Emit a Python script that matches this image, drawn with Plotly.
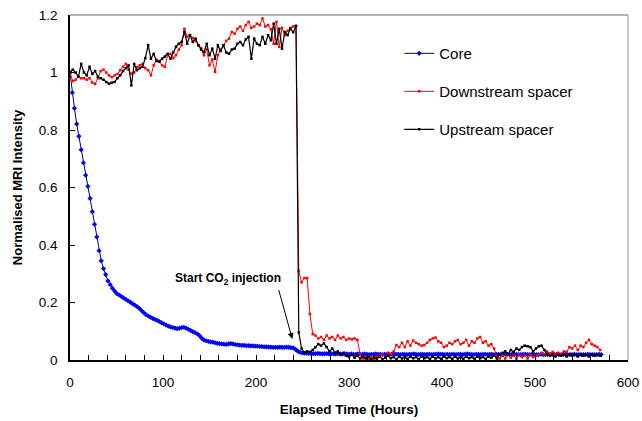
import plotly.graph_objects as go

# ---------------- data ----------------
core_step = 2.4
core_values = [
    1.00, 0.93, 0.876, 0.821, 0.778, 0.731, 0.686, 0.643, 0.604, 0.562,
    0.516, 0.472, 0.428, 0.380, 0.345, 0.318, 0.297, 0.275, 0.262, 0.250,
    0.240, 0.231, 0.226, 0.221, 0.216, 0.211, 0.206, 0.201, 0.196, 0.191,
    0.186, 0.180, 0.172, 0.165, 0.158, 0.153, 0.149, 0.145, 0.141, 0.138,
    0.134, 0.130, 0.126, 0.122, 0.118, 0.115, 0.113, 0.111, 0.109, 0.110,
    0.113, 0.114, 0.111, 0.107, 0.103, 0.099, 0.095, 0.091, 0.085, 0.076,
    0.070, 0.067, 0.065, 0.063, 0.062, 0.060, 0.058, 0.057, 0.056, 0.055,
    0.054, 0.056, 0.057, 0.056, 0.054, 0.053, 0.052, 0.051, 0.051, 0.050,
    0.050, 0.049, 0.049, 0.048, 0.048, 0.047, 0.047, 0.046, 0.046, 0.045,
    0.045, 0.044, 0.044, 0.044, 0.045, 0.044, 0.044, 0.045, 0.044, 0.043,
    0.042, 0.037, 0.031, 0.027, 0.025, 0.024, 0.024, 0.023, 0.023, 0.022,
    0.022, 0.023, 0.022, 0.021, 0.022, 0.022, 0.021, 0.022, 0.021, 0.021,
    0.022, 0.021, 0.020, 0.021, 0.021, 0.020, 0.021, 0.020, 0.020, 0.021,
    0.020, 0.020, 0.021, 0.020, 0.019, 0.020, 0.020, 0.021, 0.020, 0.020,
    0.019, 0.020, 0.020, 0.019, 0.020, 0.021, 0.020, 0.020, 0.019, 0.020,
    0.020, 0.019, 0.020, 0.020, 0.021, 0.020, 0.019, 0.020, 0.020, 0.019,
    0.020, 0.020, 0.019, 0.020, 0.020, 0.021, 0.020, 0.020, 0.019, 0.020,
    0.019, 0.020, 0.020, 0.019, 0.020, 0.020, 0.019, 0.020, 0.021, 0.020,
    0.020, 0.019, 0.020, 0.020, 0.019, 0.020, 0.020, 0.019, 0.020, 0.020,
    0.019, 0.020, 0.020, 0.019, 0.019, 0.020, 0.020, 0.019, 0.020, 0.019,
    0.020, 0.019, 0.019, 0.020, 0.020, 0.019, 0.019, 0.020, 0.019, 0.019,
    0.019, 0.020, 0.019, 0.019, 0.020, 0.019, 0.019, 0.019, 0.020, 0.019,
    0.019, 0.019, 0.020, 0.019, 0.019, 0.019, 0.020, 0.019, 0.019, 0.019,
    0.019, 0.019, 0.020, 0.019, 0.019, 0.019, 0.019, 0.020, 0.019,
]
core_time = [round(i * core_step, 1) for i in range(len(core_values))]

spacer_step = 3
downstream_values = [
    1.00, 0.97, 0.975, 0.985, 0.98, 0.98, 0.975, 0.98, 0.965, 0.96,
    0.98, 1.005, 1.01, 1.00, 0.99, 0.984, 0.99, 0.995, 1.008, 1.02,
    1.03, 1.01, 0.996, 1.00, 1.019, 1.025, 1.03, 1.015, 1.008, 0.99,
    1.025, 1.045, 1.04, 1.025, 1.02, 1.06, 1.065, 1.05, 1.06, 1.08,
    1.095, 1.152, 1.125, 1.13, 1.12, 1.11, 1.095, 1.085, 1.06, 1.08,
    1.025, 1.045, 1.002, 1.06, 1.08, 1.095, 1.11, 1.118, 1.141, 1.135,
    1.152, 1.16, 1.145, 1.165, 1.176, 1.155, 1.16, 1.17, 1.165, 1.188,
    1.16, 1.165, 1.15, 1.10, 1.176, 1.089, 1.155, 1.13, 1.145, 1.155,
    1.16, 1.162, 0.31, 0.27, 0.285, 0.285, 0.16, 0.09, 0.085, 0.075,
    0.08, 0.07, 0.085, 0.075, 0.08, 0.07, 0.085, 0.075, 0.08, 0.07,
    0.075, 0.072, 0.075, 0.07, 0.02, 0.005, 0.01, 0.0, 0.012, 0.003,
    0.01, 0.015, 0.02, 0.01, 0.025, 0.02, 0.03, 0.052, 0.045, 0.06,
    0.045, 0.065, 0.05, 0.068, 0.06, 0.055, 0.05, 0.052, 0.06, 0.07,
    0.075, 0.078, 0.065, 0.06, 0.045, 0.05, 0.06, 0.055, 0.065, 0.07,
    0.055, 0.06, 0.07, 0.05, 0.065, 0.06, 0.075, 0.08, 0.06, 0.065,
    0.05, 0.055, 0.04, 0.01, 0.005, 0.015, 0.005, 0.02, 0.008, 0.015,
    0.005, 0.02, 0.01, 0.015, 0.005, 0.018, 0.01, 0.015, 0.02, 0.025,
    0.02, 0.03, 0.022, 0.028, 0.02, 0.025, 0.02, 0.03, 0.028, 0.045,
    0.04, 0.05, 0.035, 0.05, 0.045, 0.06, 0.07, 0.055, 0.05, 0.045,
    0.035,
]
upstream_values = [
    1.00, 1.01, 1.00, 0.985, 1.03, 1.00, 0.99, 1.02, 0.995, 1.005,
    0.985, 0.98, 0.975, 0.967, 0.961, 0.965, 0.967, 0.98, 0.99, 1.005,
    1.015, 1.025, 0.955, 1.03, 1.008, 1.015, 1.02, 1.05, 1.095, 1.048,
    1.065, 1.04, 1.037, 1.048, 1.055, 1.065, 1.048, 1.07, 1.09, 1.10,
    1.106, 1.141, 1.10, 1.13, 1.106, 1.118, 1.095, 1.08, 1.071, 1.10,
    1.06, 1.083, 1.048, 1.095, 1.075, 1.095, 1.07, 1.065, 1.08, 1.083,
    1.10, 1.106, 1.095, 1.115, 1.124, 1.048, 1.118, 1.10, 1.095, 1.124,
    1.10, 1.13, 1.112, 1.17, 1.10, 1.152, 1.083, 1.141, 1.13, 1.152,
    1.14, 1.162, 0.096, 0.04, 0.025, 0.03, 0.028, 0.035, 0.045, 0.055,
    0.05, 0.058, 0.045, 0.03, 0.04, 0.025, 0.03, 0.02, 0.025, 0.015,
    0.01, 0.02, 0.008, 0.015, 0.005, 0.012, 0.005, 0.01, 0.002, 0.01,
    0.004, 0.012, 0.003, 0.008, 0.015, 0.006, 0.01, 0.003, 0.012, 0.005,
    0.01, 0.004, 0.012, 0.006, 0.01, 0.003, 0.012, 0.006, 0.01, 0.004,
    0.012, 0.005, 0.01, 0.004, 0.012, 0.006, 0.01, 0.004, 0.012, 0.005,
    0.01, 0.004, 0.012, 0.006, 0.01, 0.004, 0.012, 0.006, 0.01, 0.004,
    0.012, 0.008, 0.015, 0.005, 0.02, 0.025, 0.03, 0.02, 0.035, 0.028,
    0.04, 0.035, 0.045, 0.05, 0.048, 0.045, 0.03, 0.04, 0.048, 0.05,
    0.035, 0.02, 0.015, 0.02, 0.012, 0.018, 0.015, 0.02, 0.012, 0.02,
    0.015, 0.018, 0.012, 0.02, 0.015, 0.018, 0.012, 0.02, 0.015, 0.018,
    0.015,
]
downstream_time = [i * spacer_step for i in range(len(downstream_values))]
upstream_time = [i * spacer_step for i in range(len(upstream_values))]

series_names = ["Core", "Downstream spacer", "Upstream spacer"]
x_ticks = [0, 100, 200, 300, 400, 500, 600]
y_ticks = [0, 0.2, 0.4, 0.6, 0.8, 1.0, 1.2]
y_tick_labels = ["0", "0.2", "0.4", "0.6", "0.8", "1", "1.2"]

# injection annotation (data coords)
inject_text_x, inject_text_y = 170, 0.282
arrow_tip_x, arrow_tip_y = 239, 0.073
arrow_tail_x, arrow_tail_y = 224, 0.249

FONT = "Arial, 'Liberation Sans', Helvetica, sans-serif"

fig = go.Figure()
fig.add_trace(go.Scatter(
    x=core_time, y=core_values, name=series_names[0], mode="lines+markers",
    line=dict(color="#000080", width=1),
    marker=dict(symbol="diamond", size=4, color="#0000ff", line=dict(width=0)),
    legendgroup="a",
))
fig.add_trace(go.Scatter(
    x=downstream_time, y=downstream_values, name=series_names[1], mode="lines+markers",
    line=dict(color="#ff0000", width=1),
    marker=dict(symbol="square", size=2.5, color="#ff0000", line=dict(width=0)),
    legendgroup="b",
))
fig.add_trace(go.Scatter(
    x=upstream_time, y=upstream_values, name=series_names[2], mode="lines+markers",
    line=dict(color="#000000", width=1.2),
    marker=dict(symbol="square", size=2.5, color="#000000", line=dict(width=0)),
    legendgroup="c",
))

fig.add_annotation(
    x=inject_text_x, y=inject_text_y, xref="x", yref="y",
    text="<b>Start CO<sub>2</sub> injection</b>", showarrow=False,
    font=dict(family=FONT, size=12, color="black"),
)
fig.add_annotation(
    x=arrow_tip_x, y=arrow_tip_y, xref="x", yref="y",
    ax=arrow_tail_x, ay=arrow_tail_y, axref="x", ayref="y",
    text="", showarrow=True, arrowhead=2, arrowsize=1.2, arrowwidth=1,
    arrowcolor="black",
)

# grey top / right frame of plot area
fig.add_shape(type="line", xref="paper", yref="paper", x0=0, x1=1, y0=1, y1=1,
              line=dict(color="#b4b4b4", width=2))
fig.add_shape(type="line", xref="paper", yref="paper", x0=1, x1=1, y0=0, y1=1,
              line=dict(color="#b4b4b4", width=1.5))

fig.update_layout(
    width=642, height=421,
    margin=dict(l=70, r=14, t=15, b=61, autoexpand=False),
    paper_bgcolor="white", plot_bgcolor="white",
    font=dict(family=FONT, color="black"),
    showlegend=True,
    legend=dict(
        x=0.59, y=0.936, xanchor="left", yanchor="top",
        bgcolor="rgba(0,0,0,0)", borderwidth=0,
        font=dict(family=FONT, size=15, color="black"),
        tracegroupgap=15.5,
    ),
    xaxis=dict(
        range=[0, 600], tickvals=x_ticks, ticks="inside", ticklen=5,
        tickcolor="black", showline=True, linecolor="black", linewidth=1.5,
        showgrid=False, zeroline=False, automargin=False,
        ticklabelstandoff=9, ticklabeloverflow="allow",
        tickfont=dict(family=FONT, size=13.5, color="black"),
        minor=dict(dtick=20, ticks="inside", ticklen=5, tickcolor="black", showgrid=False),
        title=dict(text="<b>Elapsed Time (Hours)</b>",
                   font=dict(family=FONT, size=13.5, color="black"), standoff=16),
    ),
    yaxis=dict(
        range=[0, 1.2], tickvals=y_ticks, ticktext=y_tick_labels,
        ticks="inside", ticklen=5, tickcolor="black",
        showline=True, linecolor="black", linewidth=1.5,
        showgrid=False, zeroline=False, automargin=False,
        ticklabelstandoff=8, ticklabeloverflow="allow",
        tickfont=dict(family=FONT, size=13.5, color="black"),
        title=dict(text="<b>Normalised MRI Intensity</b>",
                   font=dict(family=FONT, size=13, color="black"), standoff=13),
    ),
)

# remove the default 8px page margin so the figure fills the 642x421 window
fig.write_html(
    "out.html",
    config={"displayModeBar": False},
    post_script="document.body.style.margin='0';document.body.style.overflow='hidden';",
)
